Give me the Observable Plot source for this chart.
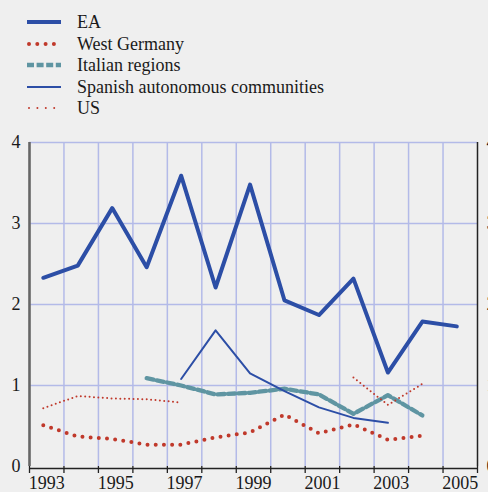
<!DOCTYPE html>
<html>
<head>
<meta charset="utf-8">
<script src="https://cdn.jsdelivr.net/npm/d3@7"></script>
<script src="https://cdn.jsdelivr.net/npm/@observablehq/plot@0.6"></script>
<style>
  html, body { margin: 0; padding: 0; background: #efefef; overflow: hidden; }
  #wrap { width: 488px; height: 492px; position: relative; background: #efefef; }
  #legend { position: relative; width: 488px; height: 120px; font-family: "Liberation Serif", "Times New Roman", serif; font-size: 18px; color: #1a1a1a; }
  .row { position: absolute; left: 0; height: 22px; line-height: 22px; white-space: nowrap; }
  .row svg { position: absolute; left: 27px; top: 0; }
  .row span { position: absolute; left: 77px; top: 0; }
</style>
</head>
<body>
<div id="wrap">
  <div id="legend"></div>
  <div id="chart"></div>
</div>
<script>
// ---- Data ----
const years = [1993, 1994, 1995, 1996, 1997, 1998, 1999, 2000, 2001, 2002, 2003, 2004, 2005];
const ea            = [2.33, 2.48, 3.19, 2.46, 3.59, 2.21, 3.48, 2.05, 1.87, 2.32, 1.16, 1.79, 1.73];
const westGermany   = [0.51, 0.37, 0.34, 0.27, 0.27, 0.36, 0.42, 0.64, 0.41, 0.52, 0.33, 0.38, null];
const italian       = [null, null, null, 1.09, 1.00, 0.89, 0.91, 0.96, 0.89, 0.65, 0.88, 0.63, null];
const spanish       = [null, null, null, null, 1.08, 1.68, 1.15, 0.93, 0.73, 0.60, 0.54, null, null];
const us            = [0.72, 0.87, 0.84, 0.83, 0.79, null, null, null, null, 1.10, 0.76, 1.02, null];
const seriesNames   = ["EA", "West Germany", "Italian regions", "Spanish autonomous communities", "US"];
const yTicks        = [0, 1, 2, 3, 4];
const xTickLabels   = ["1993", "1995", "1997", "1999", "2001", "2003", "2005"];

// ---- Styles ----
const BLUE = "#2c4ea6", RED = "#c0392b", TEAL = "#5f95a2", GRID = "#b3bae8";
const styles = [
  {stroke: BLUE, strokeWidth: 4},
  {stroke: RED, strokeWidth: 4, strokeDasharray: "0 8.2", strokeLinecap: "round"},
  {stroke: TEAL, strokeWidth: 4.3, strokeDasharray: "7 3.4"},
  {stroke: BLUE, strokeWidth: 2},
  {stroke: RED, strokeWidth: 2, strokeDasharray: "0 4.4", strokeLinecap: "round"}
];
const legendStyles = [
  {stroke: BLUE, strokeWidth: 4},
  {stroke: RED, strokeWidth: 4, strokeDasharray: "0 8.3", strokeLinecap: "round"},
  {stroke: TEAL, strokeWidth: 4.5, strokeDasharray: "7 2.6"},
  {stroke: BLUE, strokeWidth: 2},
  {stroke: RED, strokeWidth: 2, strokeDasharray: "0 8.4", strokeLinecap: "round"}
];

// ---- Legend ----
const legend = document.getElementById("legend");
seriesNames.forEach((name, i) => {
  const row = document.createElement("div");
  row.className = "row";
  row.style.top = (11 + i * 21.5) + "px";
  const s = legendStyles[i];
  const x1 = s.strokeLinecap === "round" ? 2 : 0;
  row.innerHTML = `<svg width="36" height="22"><line x1="${x1}" x2="34" y1="11" y2="11" stroke="${s.stroke}" stroke-width="${s.strokeWidth}" ${s.strokeDasharray ? `stroke-dasharray="${s.strokeDasharray}"` : ""} ${s.strokeLinecap ? `stroke-linecap="${s.strokeLinecap}"` : ""}/></svg><span>${name}</span>`;
  legend.appendChild(row);
});

// ---- Chart ----
const X0 = 1992.6, X1 = 2005.6;     // each year occupies the interval [year-0.4, year+0.6]
const boundaries = d3.range(X0, X1 + 0.001, 1);
const inner = boundaries.slice(1, -1);
const table = (vals) => years.map((y, i) => ({year: y, v: vals[i]}));
const allSeries = [ea, westGermany, italian, spanish, us];

const chart = Plot.plot({
  width: 488,
  height: 372,
  marginTop: 22,
  marginBottom: 26,
  marginLeft: 29,
  marginRight: 11,
  x: {domain: [X0, X1], label: null},
  y: {domain: [0, 4], label: null},
  style: {background: "transparent", fontFamily: "Liberation Serif, Times New Roman, serif", fontSize: "18px", color: "#1a1a1a", overflow: "hidden"},
  marks: [
    Plot.ruleX(inner, {stroke: GRID, strokeWidth: 1.5}),
    Plot.ruleY([1, 2, 3, 4], {stroke: GRID, strokeWidth: 1.5}),
    Plot.ruleX([X0], {stroke: "#666", strokeWidth: 2.6}),
    Plot.ruleX([X1], {stroke: "#222", strokeWidth: 1.5}),
    Plot.ruleY([0], {stroke: "#222", strokeWidth: 1.5, dy: 2}),
    Plot.axisX({ticks: boundaries, tickSize: 7, tickFormat: () => "", label: null, stroke: "#222", strokeWidth: 1.3}),
    Plot.axisX({ticks: xTickLabels.map(d => +d + 0.1), tickSize: 0, tickPadding: 10, label: null,
                tickFormat: d => xTickLabels.find(t => Math.abs(+t + 0.1 - d) < 0.01), fontSize: 18}),
    Plot.axisY({anchor: "left", ticks: yTicks, tickSize: 0, tickPadding: 9, label: null, tickFormat: d => String(d), fontSize: 18}),
    Plot.axisY({anchor: "right", ticks: yTicks, tickSize: 0, tickPadding: 9, label: null, tickFormat: d => String(d), fontSize: 18}),
    ...allSeries.map((vals, i) => Plot.line(table(vals), {x: "year", y: "v", ...styles[i]}))
  ]
});
document.getElementById("chart").appendChild(chart);
</script>
</body>
</html>
